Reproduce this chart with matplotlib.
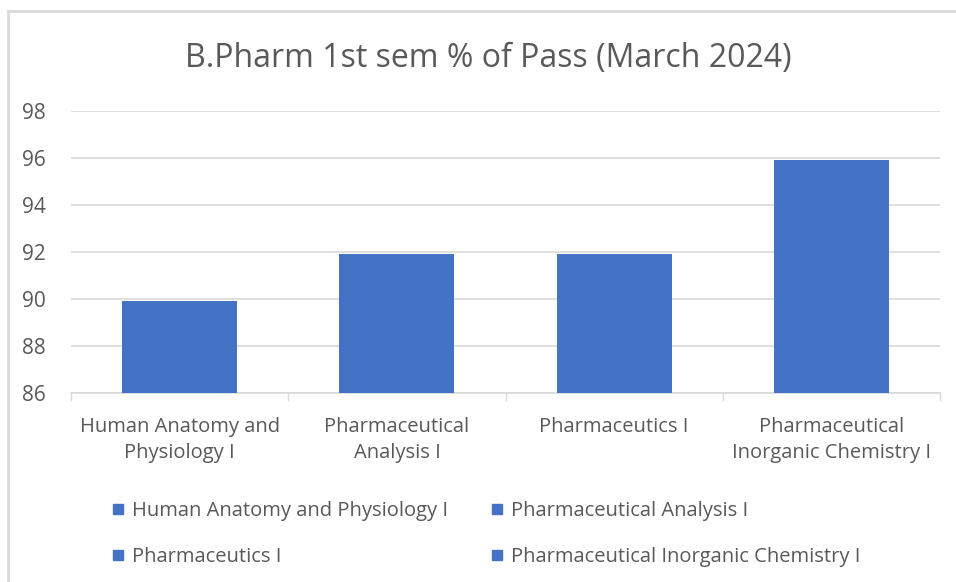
import matplotlib
matplotlib.use("Agg")
import matplotlib.pyplot as plt
from matplotlib.lines import Line2D

categories = ["Human Anatomy and\nPhysiology I", "Pharmaceutical\nAnalysis I",
              "Pharmaceutics I", "Pharmaceutical\nInorganic Chemistry I"]
legend_names = ["Human Anatomy and Physiology I", "Pharmaceutical Analysis I",
                "Pharmaceutics I", "Pharmaceutical Inorganic Chemistry I"]
values = [89.9, 91.9, 91.9, 95.9]
yticks = [86, 88, 90, 92, 94, 96, 98]

BAR = "#4472C4"
TXT = "#595959"
plt.rcParams['font.family'] = ['Open Sans', 'DejaVu Sans']

W, H = 956, 582
fig = plt.figure(figsize=(W/100, H/100), dpi=100)
fig.patch.set_facecolor("white")

# outer chart frame
fig.add_artist(Line2D([8/W, 8/W], [0, 1-11/H], transform=fig.transFigure, color="#d9d9d9", lw=2))
fig.add_artist(Line2D([8/W, 1], [1-11/H, 1-11/H], transform=fig.transFigure, color="#d9d9d9", lw=2))

left, right, top, bottom = 71, 940, 111, 393
ax = fig.add_axes([left/W, 1-bottom/H, (right-left)/W, (bottom-top)/H])
x = list(range(len(categories)))
ax.bar(x, values, width=0.53, color=BAR, zorder=3)
ax.set_ylim(86, 98)
ax.set_xlim(-0.5, len(categories)-0.5)
ax.set_yticks(yticks)
ax.set_yticklabels([str(t) for t in yticks], fontsize=15, color=TXT)
ax.set_xticks(x)
ax.set_xticklabels(categories, fontsize=14.5, color=TXT, linespacing=1.45)
ax.set_xticks([i-0.5 for i in range(len(categories)+1)], minor=True)
ax.tick_params(axis='x', which='major', length=0, pad=17)
ax.tick_params(axis='x', which='minor', length=6, color="#d9d9d9", width=1, direction='out')
ax.tick_params(axis='y', length=0, pad=18)
ax.yaxis.grid(True, color="#d9d9d9", lw=1.2, zorder=0)
for s in ["top", "right", "left"]:
    ax.spines[s].set_visible(False)
ax.spines["bottom"].set_color("#d9d9d9")
ax.spines["bottom"].set_linewidth(1.2)
ax.set_axisbelow(True)

fig.text(488/W, 1-58/H, "B.Pharm 1st sem % of Pass (March 2024)", ha="center", va="center",
         fontsize=23, color=TXT)

handles = [Line2D([], [], marker="s", ls="none", color=BAR, markersize=6.5) for _ in legend_names]
order = [0, 2, 1, 3]
leg = fig.legend([handles[i] for i in order], [legend_names[i] for i in order],
                 ncol=2, loc="upper left", bbox_to_anchor=(92/W, 1-483/H),
                 frameon=False, fontsize=14.5, labelcolor=TXT, handlelength=0.8,
                 handletextpad=0.3, columnspacing=2.0, labelspacing=1.3)

fig.savefig("out.png", dpi=100, facecolor="white")
